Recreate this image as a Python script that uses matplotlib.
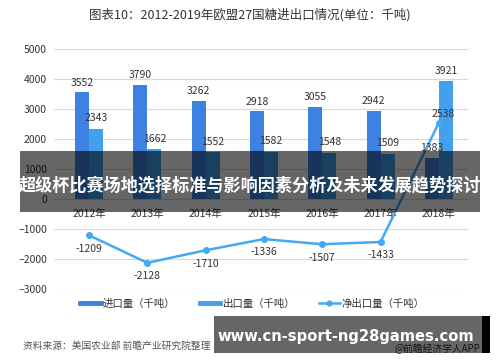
#!/usr/bin/env python3
import matplotlib
matplotlib.use("Agg")
import matplotlib.pyplot as plt
from matplotlib.lines import Line2D
from matplotlib.patches import Rectangle
import numpy as np

plt.rcParams["font.family"] = ["Noto Sans CJK SC", "DejaVu Sans"]

years = ["2012年", "2013年", "2014年", "2015年", "2016年", "2017年", "2018年"]
imports = [3552, 3790, 3262, 2918, 3055, 2942, 1383]
exports = [2343, 1662, 1552, 1582, 1548, 1509, 3921]
net_exports = [-1209, -2128, -1710, -1336, -1507, -1433, 2538]

C_IMP = "#3D82E0"
C_EXP = "#42A0EE"
C_NET = "#45A8F2"
TXT = "#333333"


def main() -> None:
    fig = plt.figure(figsize=(5, 3.62), dpi=100)
    ax = fig.add_axes([54 / 500, 73 / 362, 414 / 500, 240 / 362])
    x = np.arange(len(years))
    w = 0.24

    ax.bar(x - w / 2, imports, w, color=C_IMP, zorder=2)
    ax.bar(x + w / 2, exports, w, color=C_EXP, zorder=2)
    ax.plot(x, net_exports, color=C_NET, lw=1.8, marker="o", ms=4, zorder=3)

    ax.set_xlim(-0.6, 6.5)
    ax.set_ylim(-3000, 5000)
    ax.set_yticks(range(-3000, 5001, 1000))
    ax.grid(axis="y", color="#D9D9D9", lw=0.8, zorder=0)
    for s in ["left", "right", "top"]:
        ax.spines[s].set_visible(False)
    ax.spines["bottom"].set_position(("data", 0))
    ax.spines["bottom"].set_visible(False)
    ax.set_xticks(x)
    ax.set_xticklabels(years)
    ax.tick_params(axis="x", length=0, pad=7, labelsize=7.5, labelcolor=TXT)
    ax.tick_params(axis="y", length=0, pad=5, labelsize=7.5, labelcolor=TXT)

    for i in range(len(years)):
        ax.annotate(str(imports[i]), (x[i] - w / 2, imports[i]), xytext=(0, 3.5),
                    textcoords="offset points", ha="center", va="bottom",
                    fontsize=7.5, color=TXT, zorder=5)
        ax.annotate(str(exports[i]), (x[i] + w / 2, exports[i]), xytext=(0, 4),
                    textcoords="offset points", ha="center", va="bottom",
                    fontsize=7.5, color=TXT, zorder=5)
        if net_exports[i] < 0:
            ax.annotate(str(net_exports[i]), (x[i], net_exports[i]), xytext=(0, -6),
                        textcoords="offset points", ha="center", va="top",
                        fontsize=7.5, color=TXT, zorder=5)
        else:
            ax.annotate(str(net_exports[i]), (x[i], net_exports[i]), xytext=(3, 3),
                        textcoords="offset points", ha="center", va="bottom",
                        fontsize=7.5, color=TXT, zorder=5)

    fig.text(0.5, 1 - 15 / 362, "图表10：2012-2019年欧盟27国糖进出口情况(单位：千吨)",
             ha="center", va="center", fontsize=9, color=TXT)

    handles = [
        Line2D([], [], color=C_IMP, lw=3.5),
        Line2D([], [], color=C_EXP, lw=3.5),
        Line2D([], [], color=C_NET, lw=1.8, marker="o", ms=3.5),
    ]
    fig.legend(handles, ["进口量（千吨）", "出口量（千吨）", "净出口量（千吨）"],
               loc="center", bbox_to_anchor=(0.505, 1 - 304 / 362), ncol=3,
               frameon=False, fontsize=7.5, handlelength=2, handletextpad=0.2,
               columnspacing=2.3, labelcolor=TXT)

    fig.text(23 / 500, 1 - 346 / 362, "资料来源：美国农业部 前瞻产业研究院整理",
             ha="left", va="center", fontsize=7, color="#555555", style="italic")
    fig.text(480 / 500, 1 - 349 / 362, "@前瞻经济学人APP",
             ha="right", va="center", fontsize=7, color=TXT)

    # overlay banners
    fig.add_artist(Rectangle((20 / 500, 1 - 212 / 362), 460 / 500, 61 / 362,
                             transform=fig.transFigure, color="black", alpha=0.6,
                             lw=0, zorder=10))
    fig.text(250 / 500, 1 - 185 / 362, "超级杯比赛场地选择标准与影响因素分析及未来发展趋势探讨",
             ha="center", va="center", fontsize=12.3, color="white",
             fontweight="bold", zorder=11)
    fig.add_artist(Rectangle((214 / 500, 1 - 353 / 362), 268 / 500, 37 / 362,
                             transform=fig.transFigure, color="black", alpha=0.6,
                             lw=0, zorder=10))
    fig.add_artist(Rectangle((482 / 500, 1 - 353 / 362), 8 / 500, 37 / 362,
                             transform=fig.transFigure, color="black",
                             lw=0, zorder=10))
    fig.text(346 / 500, 1 - 336 / 362, "www.cn-sport-ng28games.com",
             ha="center", va="center", fontsize=10.6, color="white",
             fontweight="bold", family="DejaVu Sans", zorder=11)

    fig.savefig("out.png", dpi=100)


if __name__ == "__main__":
    main()
